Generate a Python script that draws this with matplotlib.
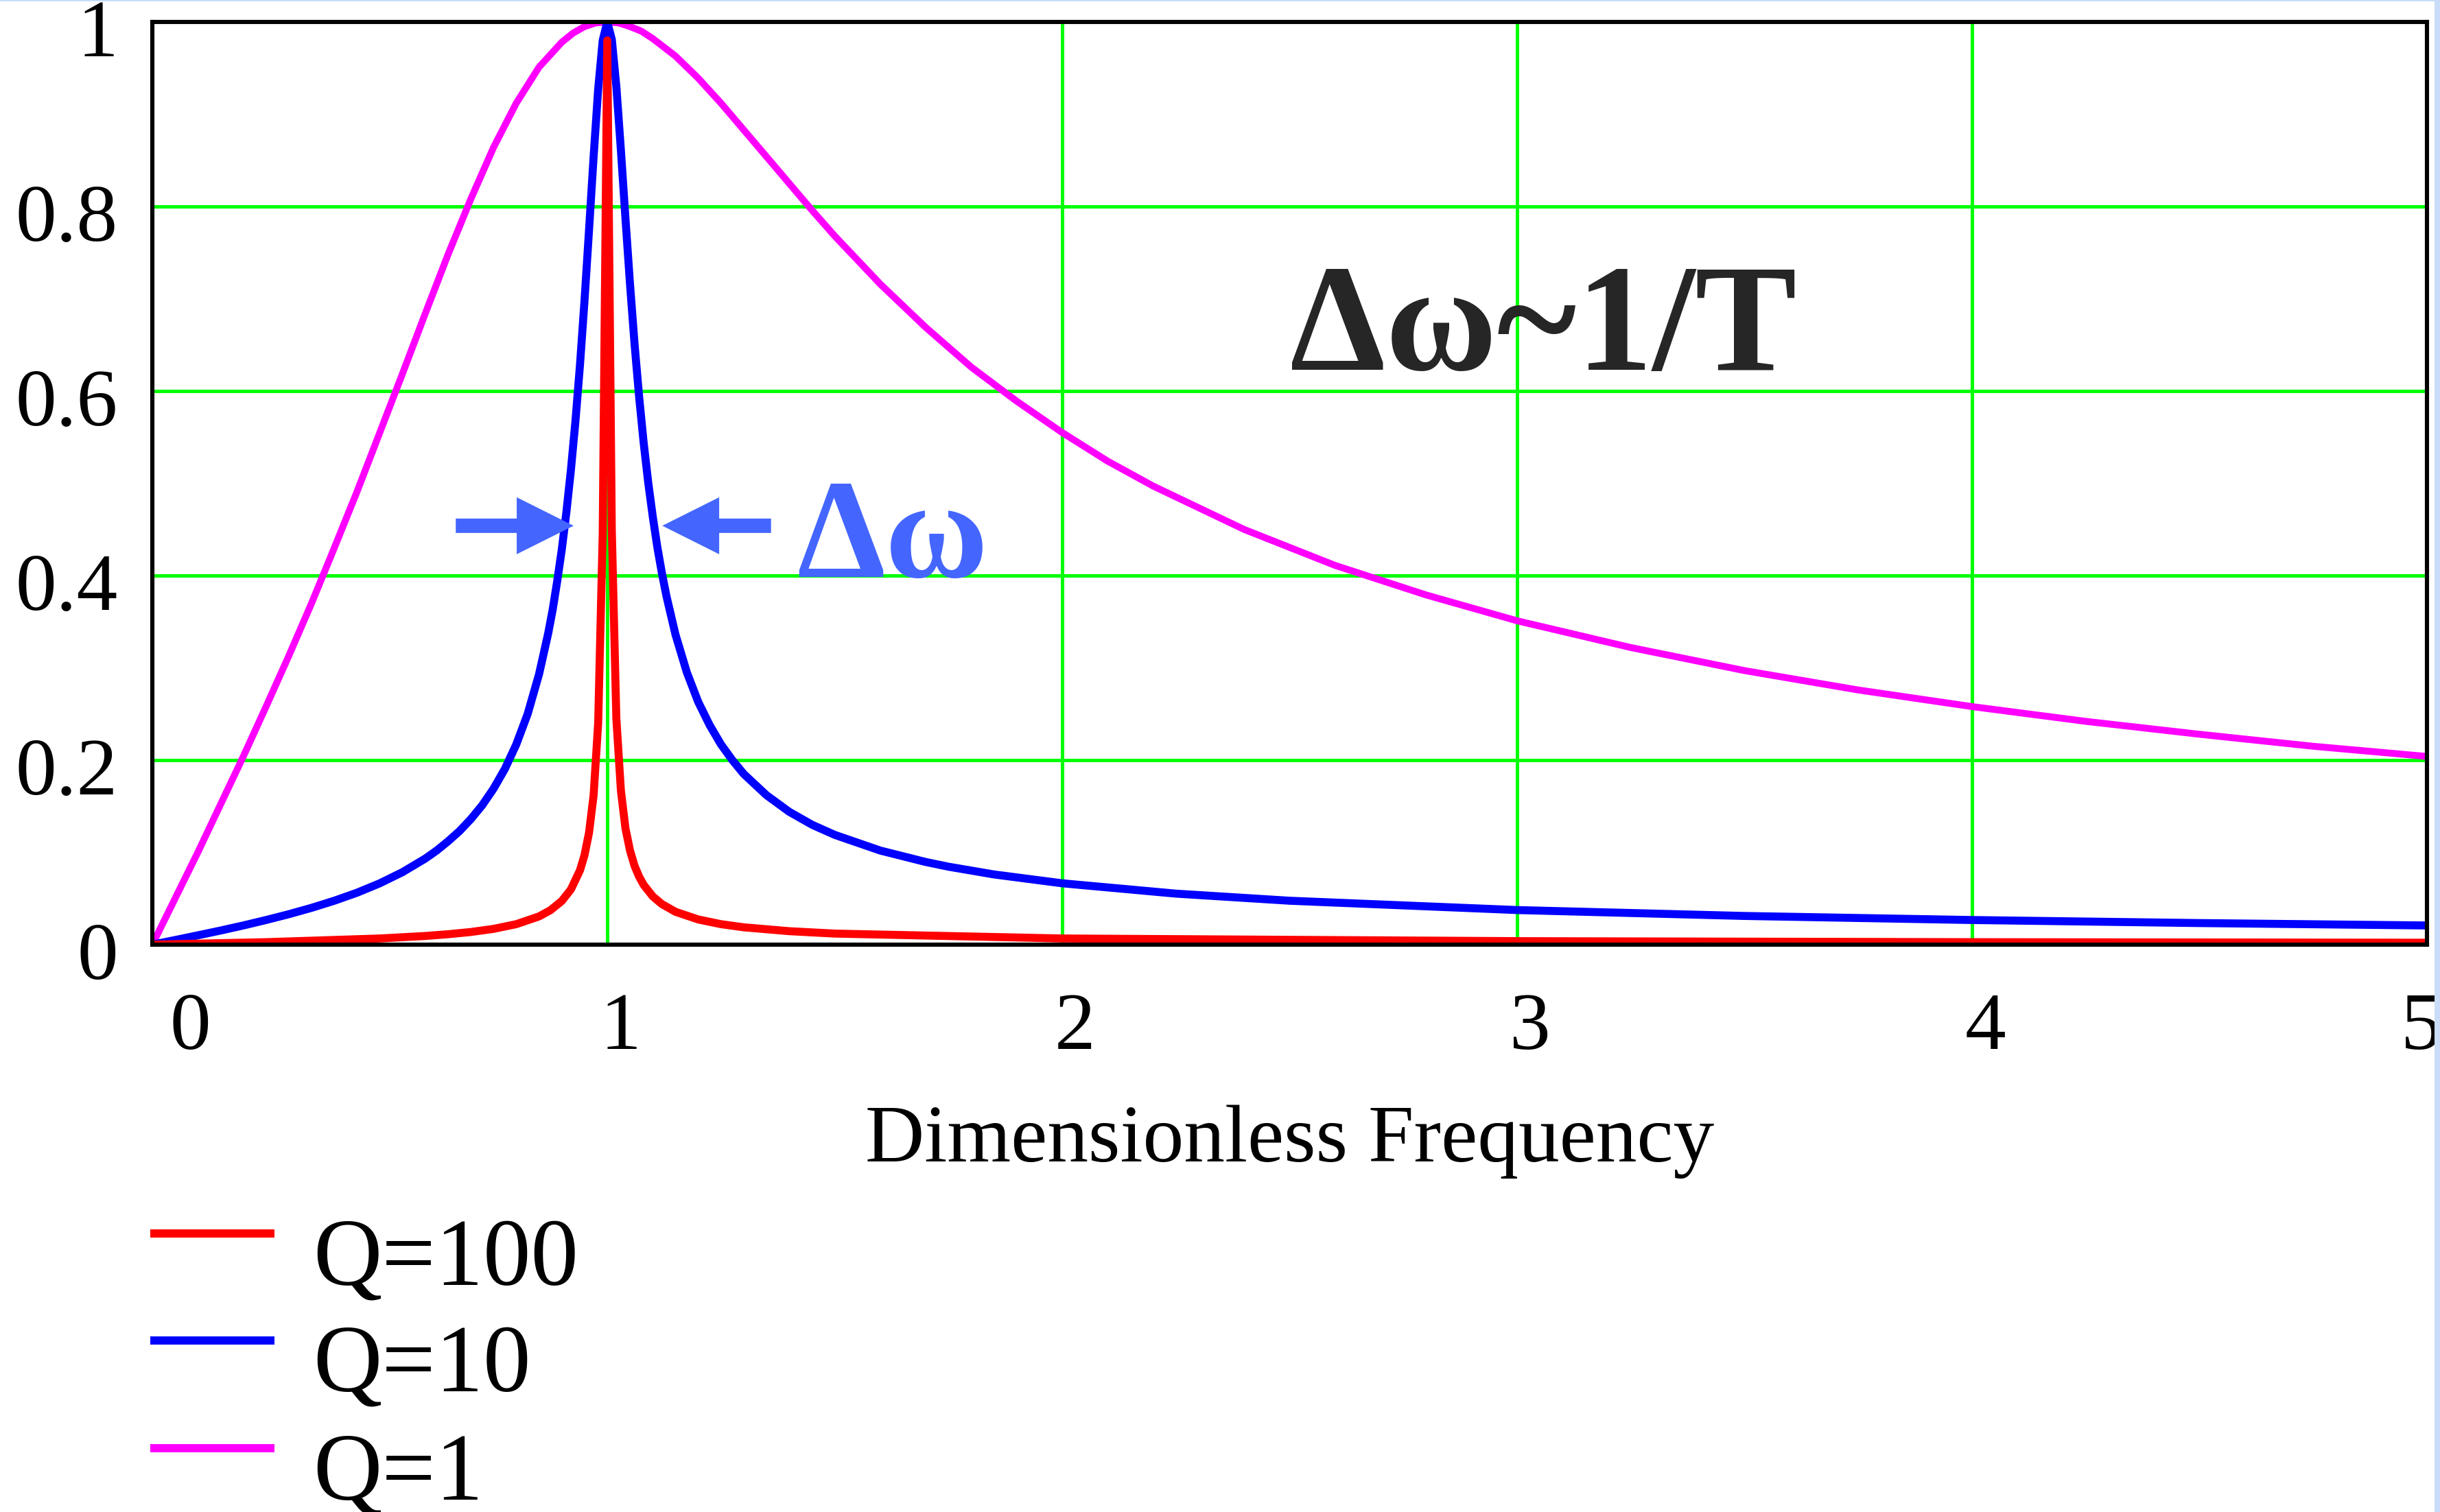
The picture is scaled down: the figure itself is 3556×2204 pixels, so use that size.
import matplotlib
matplotlib.use('Agg')
import matplotlib.pyplot as plt
from matplotlib.lines import Line2D
from matplotlib.patches import FancyArrow, Rectangle
from matplotlib.transforms import ScaledTranslation

# ---------------- data ----------------
x_q1 = [0, 0.05, 0.1, 0.15, 0.2, 0.25, 0.3, 0.35, 0.4, 0.45,
        0.5, 0.55, 0.6, 0.65, 0.7, 0.75, 0.8, 0.85, 0.9, 0.925,
        0.95, 0.975, 1.0, 1.025, 1.05, 1.075, 1.1, 1.15, 1.2, 1.25,
        1.3, 1.35, 1.4, 1.45, 1.5, 1.55, 1.6, 1.7, 1.8, 1.9,
        2.0, 2.1, 2.2, 2.4, 2.6, 2.8, 3.0, 3.25, 3.5, 3.75,
        4.0, 4.25, 4.5, 4.75, 5.0]
y_q1 = [0, 0.050, 0.100, 0.152, 0.204, 0.258, 0.313, 0.370, 0.430, 0.491,
        0.555, 0.619, 0.684, 0.748, 0.808, 0.864, 0.912, 0.951, 0.978, 0.988,
        0.995, 0.999, 1.0, 0.999, 0.995, 0.990, 0.982, 0.963, 0.939, 0.912,
        0.883, 0.854, 0.825, 0.796, 0.768, 0.742, 0.716, 0.669, 0.626, 0.589,
        0.555, 0.524, 0.497, 0.450, 0.411, 0.379, 0.351, 0.322, 0.297, 0.276,
        0.258, 0.242, 0.228, 0.215, 0.204]

x_q10 = [0, 0.05, 0.1, 0.15, 0.2, 0.25, 0.3, 0.35, 0.4, 0.45,
         0.5, 0.55, 0.6, 0.625, 0.65, 0.675, 0.7, 0.725, 0.75, 0.775,
         0.8, 0.825, 0.85, 0.87, 0.88, 0.89, 0.9, 0.91, 0.92, 0.93,
         0.94, 0.95, 0.96, 0.97, 0.98, 0.99, 1.0, 1.01, 1.02, 1.03,
         1.04, 1.05, 1.06, 1.07, 1.08, 1.09, 1.1, 1.11, 1.12, 1.13,
         1.15, 1.175, 1.2, 1.225, 1.25, 1.275, 1.3, 1.35, 1.4, 1.45,
         1.5, 1.6, 1.7, 1.75, 1.85, 2.0, 2.25, 2.5, 3.0, 3.5,
         4.0, 4.5, 5.0]
y_q10 = [0, 0.0050, 0.0101, 0.0153, 0.0208, 0.0267, 0.0330, 0.0399, 0.0476, 0.0563,
         0.0665, 0.0786, 0.0933, 0.102, 0.112, 0.123, 0.136, 0.151, 0.169, 0.1905,
         0.217, 0.250, 0.293, 0.337, 0.363, 0.394, 0.428, 0.468, 0.514, 0.567,
         0.628, 0.698, 0.775, 0.854, 0.927, 0.980, 1.0, 0.981, 0.930, 0.861,
         0.787, 0.716, 0.651, 0.594, 0.544, 0.501, 0.464, 0.431, 0.403, 0.378,
         0.336, 0.295, 0.263, 0.238, 0.217, 0.200, 0.185, 0.162, 0.144, 0.130,
         0.119, 0.102, 0.0896, 0.0845, 0.0761, 0.0665, 0.0553, 0.0476, 0.0375, 0.0311,
         0.0267, 0.0234, 0.0208]

x_q100 = [0, 0.25, 0.5, 0.6, 0.65, 0.7, 0.75, 0.8, 0.85, 0.875, 0.9, 0.92, 0.94, 0.95, 0.96,
          0.97, 0.98, 0.99, 1.0, 1.01, 1.02, 1.03, 1.04, 1.05, 1.06, 1.07, 1.08, 1.1, 1.12,
          1.15, 1.2, 1.25, 1.3, 1.4, 1.5, 2.0, 3.0, 4.0, 5.0]
y_q100 = [0, 0.0027, 0.0067, 0.0094, 0.0113, 0.0137, 0.0171, 0.0222, 0.0306, 0.0373, 0.0473, 0.0598, 0.0805, 0.0970, 0.1215,
          0.162, 0.240, 0.445, 0.98, 0.449, 0.245, 0.167, 0.126, 0.102, 0.0854, 0.0737, 0.0648, 0.0523, 0.0440,
          0.0356, 0.0273, 0.0222, 0.0188, 0.0146, 0.0120, 0.0067, 0.0038, 0.0027, 0.0021]

series_labels = ['Q=100', 'Q=10', 'Q=1']
x_ticks = [0, 1, 2, 3, 4, 5]
x_tick_labels = ['0', '1', '2', '3', '4', '5']
y_ticks = [0, 0.2, 0.4, 0.6, 0.8, 1.0]
y_tick_labels = ['0', '0.2', '0.4', '0.6', '0.8', '1']
x_label = 'Dimensionless Frequency'
note_width = 'Δω'
note_relation = 'Δω~1/T'

# ---------------- styling ----------------
plt.rcParams['font.family'] = ['Liberation Serif', 'DejaVu Serif']
DPI = 200
RED, BLUE, MAG, GREEN = '#ff0000', '#0000ff', '#ff00ff', '#00ff00'
ANN_BLUE = '#4466ff'

fig = plt.figure(figsize=(17.78, 11.02), dpi=DPI)
fig.patch.set_facecolor('white')
ax = fig.add_axes([0.06243, 0.37523, 0.99466 - 0.06243, 0.98548 - 0.37523])

ax.plot(x_q1, y_q1, color=MAG, lw=3.6, zorder=3)
ax.plot(x_q10, y_q10, color=BLUE, lw=4.2, zorder=3.1)
ax.plot(x_q100, y_q100, color=RED, lw=4.2, zorder=3.2)

ax.set_xlim(0, 5)
ax.set_ylim(0, 1)
ax.set_xticks(x_ticks)
ax.set_xticklabels(x_tick_labels)
ax.set_yticks(y_ticks)
ax.set_yticklabels(y_tick_labels)
ax.tick_params(axis='both', length=0, labelsize=43)
ax.tick_params(axis='x', pad=25)
ax.tick_params(axis='y', pad=18)
ax.grid(True, color=GREEN, lw=1.8)
ax.set_axisbelow(True)
for s in ax.spines.values():
    s.set_linewidth(2.2)
    s.set_color('black')
    s.set_zorder(5)

# tick label offsets (Mathcad-like placement)
x_dx_px = [55, 19, 19, 19, 19, -8]
for lbl, dx in zip(ax.get_xticklabels(), x_dx_px):
    lbl.set_transform(lbl.get_transform() + ScaledTranslation(dx / DPI, 0, fig.dpi_scale_trans))
for lbl in ax.get_yticklabels():
    lbl.set_transform(lbl.get_transform() + ScaledTranslation(0, -9 / DPI, fig.dpi_scale_trans))

ax.set_xlabel(x_label, fontsize=43)
ax.xaxis.set_label_coords(0.5, -0.235)
ax.xaxis.label.set_verticalalignment('baseline')

# annotations
ax.text(1.416, 0.3985, note_width, color=ANN_BLUE, fontsize=74, fontweight='bold',
        ha='left', va='baseline', zorder=6)
ax.text(2.501, 0.623, note_relation, color='#262626', fontsize=80, fontweight='bold',
        ha='left', va='baseline', zorder=6)
arrow_kw = dict(width=0.0156, head_width=0.0617, head_length=0.125,
                length_includes_head=True, color=ANN_BLUE, lw=0, zorder=6)
ax.add_patch(FancyArrow(0.667, 0.454, 0.926 - 0.667, 0, **arrow_kw))
ax.add_patch(FancyArrow(1.360, 0.454, 1.121 - 1.360, 0, **arrow_kw))

# legend below the plot
leg_colors = [RED, BLUE, MAG]
leg_line_y = [0.1844, 0.1134, 0.0422]
leg_text_y = [0.1506, 0.0799, 0.0086]
for c, lab, ly, ty in zip(leg_colors, series_labels, leg_line_y, leg_text_y):
    fig.add_artist(Line2D([0.0616, 0.1125], [ly, ly], transform=fig.transFigure,
                          color=c, lw=4.3, solid_capstyle='butt'))
    fig.text(0.1282, ty, lab, fontsize=50, ha='left', va='baseline')

# light blue screenshot border
fig.add_artist(Rectangle((0.99775, 0), 0.00225, 1, transform=fig.transFigure,
                         facecolor='#c9ddf8', edgecolor='none', zorder=10))
fig.add_artist(Rectangle((0, 0.9989), 1, 0.0011, transform=fig.transFigure,
                         facecolor='#c9ddf8', edgecolor='none', zorder=10))

fig.savefig('out.png', dpi=DPI)
